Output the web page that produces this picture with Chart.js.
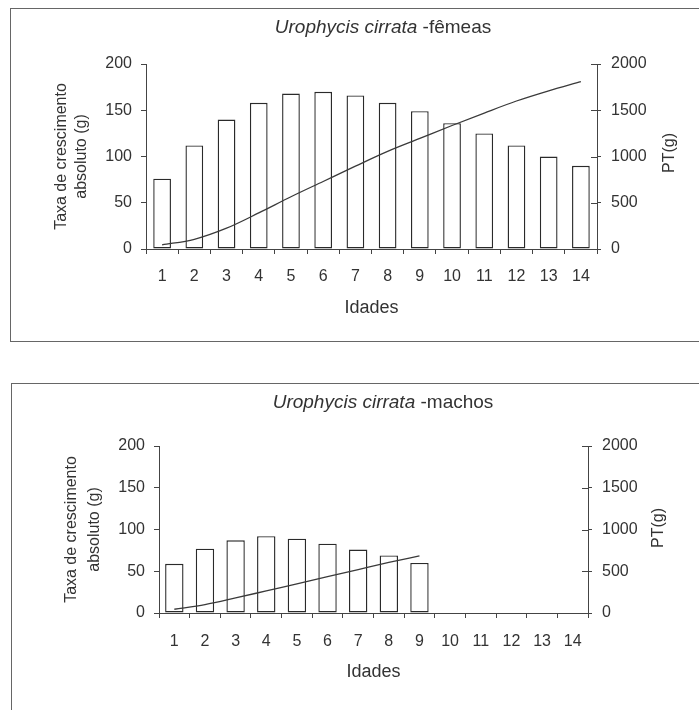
<!DOCTYPE html>
<html>
<head>
<meta charset="utf-8">
<script src="https://cdn.jsdelivr.net/npm/chart.js@4.4.1/dist/chart.umd.min.js"></script>
<style>
  html, body { margin: 0; padding: 0; background: #fff; overflow: hidden; }
  body { width: 699px; height: 710px; position: relative; font-family: "Liberation Sans", Arial, sans-serif; color: #333; }
  .frame { position: absolute; border: 1px solid #666; }
  canvas { position: absolute; left: 0; }
  .title { position: absolute; left: 0; width: 766px; text-align: center; font-size: 19px; line-height: 22px; }
  .pt { position: absolute; font-size: 16px; line-height: 18px; width: 60px; text-align: center; transform: rotate(-90deg); }
</style>
</head>
<body>
<div class="frame" style="left:10px; top:8px; width:720px; height:332px;"></div>
<div class="frame" style="left:11px; top:383px; width:720px; height:400px;"></div>

<canvas id="chartF" width="699" height="345" style="top:0px;"></canvas>
<canvas id="chartM" width="699" height="355" style="top:355px;"></canvas>

<div class="title" style="top:16px;"><i>Urophycis cirrata</i> -fêmeas</div>
<div class="title" style="top:391px;"><i>Urophycis cirrata</i> -machos</div>
<div class="pt" style="left:639px; top:144px;">PT(g)</div>
<div class="pt" style="left:628px; top:519px;">PT(g)</div>

<script>
// idades (x categories)
var idades = ["1", "2", "3", "4", "5", "6", "7", "8", "9", "10", "11", "12", "13", "14"];

// femeas: taxa de crescimento absoluto (g) and PT(g)
var taxaFemeas = [76, 112, 140, 158, 168, 170, 166, 158, 149, 136, 125, 112, 100, 90];
var ptFemeas = [45, 105, 225, 390, 565, 730, 895, 1055, 1195, 1335, 1470, 1600, 1710, 1810];

// machos: only ages 1-9
var taxaMachos = [59, 77, 87, 92, 89, 83, 76, 69, 60, null, null, null, null, null];
var ptMachos = [45, 100, 180, 265, 350, 435, 520, 605, 685, null, null, null, null, null];

var textColor = '#333';
var axisColor = '#444';

// right axis ticks cross the axis line in the original
var innerTicks = {
    id: 'innerTicks',
    afterDraw: function (chart) {
        var s = chart.scales.y1;
        var ctx = chart.ctx;
        ctx.save();
        ctx.strokeStyle = axisColor;
        ctx.lineWidth = 1;
        s.ticks.forEach(function (t) {
            var y = Math.round(s.getPixelForValue(t.value)) + 0.5;
            ctx.beginPath();
            ctx.moveTo(s.left - 6, y);
            ctx.lineTo(s.left, y);
            ctx.stroke();
        });
        ctx.restore();
    }
};

function makeChart(id, taxa, pt, g) {
    var ctx = document.getElementById(id).getContext('2d');
    return new Chart(ctx, {
        type: 'bar',
        data: {
            labels: idades,
            datasets: [{
                type: 'line',
                data: pt,
                yAxisID: 'y1',
                borderColor: '#3a3a3a',
                borderWidth: 1.3,
                pointRadius: 0,
                fill: false,
                cubicInterpolationMode: 'monotone',
                spanGaps: false
            }, {
                type: 'bar',
                data: taxa,
                yAxisID: 'y',
                backgroundColor: '#fff',
                borderColor: '#2a2a2a',
                borderWidth: 1.4,
                borderSkipped: false,
                barPercentage: g.barPct,
                categoryPercentage: 1
            }]
        },
        options: {
            responsive: false,
            animation: false,
            layout: { padding: { top: g.top, left: 0, right: 0, bottom: 0 } },
            plugins: { legend: { display: false }, tooltip: { enabled: false } },
            scales: {
                x: {
                    offset: true,
                    grid: { display: true, drawOnChartArea: false, offset: true, tickLength: 5, color: axisColor },
                    border: { color: axisColor },
                    ticks: { color: textColor, padding: g.xPad, font: { family: 'Liberation Sans', size: 16 } },
                    title: {
                        display: true, text: 'Idades', color: textColor,
                        font: { family: 'Liberation Sans', size: 18 },
                        padding: { top: 0, bottom: g.xTitlePad }
                    },
                    afterFit: function (s) { s.height = g.xHeight; }
                },
                y: {
                    position: 'left',
                    min: 0, max: 200,
                    ticks: { stepSize: 50, color: textColor, padding: 9, font: { family: 'Liberation Sans', size: 16 } },
                    grid: { drawOnChartArea: false, tickLength: 5, color: axisColor },
                    border: { color: axisColor },
                    title: {
                        display: true,
                        text: ['Taxa de crescimento', 'absoluto (g)'],
                        color: textColor,
                        font: { family: 'Liberation Sans', size: 16, lineHeight: g.yLine },
                        padding: { top: g.yTitlePad, bottom: 0 }
                    },
                    afterFit: function (s) { s.width = g.left; }
                },
                y1: {
                    position: 'right',
                    min: 0, max: 2000,
                    ticks: {
                        stepSize: 500, color: textColor, padding: 10,
                        font: { family: 'Liberation Sans', size: 16 },
                        callback: function (v) { return String(v); }
                    },
                    grid: { drawOnChartArea: false, tickLength: 4, color: axisColor },
                    border: { color: axisColor },
                    afterFit: function (s) { s.width = g.right; }
                }
            }
        },
        plugins: [innerTicks]
    });
}

makeChart('chartF', taxaFemeas, ptFemeas, {
    top: 64, left: 146, right: 102, xHeight: 96, barPct: 0.55,
    xPad: 13, xTitlePad: 26, yLine: '20px', yTitlePad: 52
});
makeChart('chartM', taxaMachos, ptMachos, {
    top: 91, left: 159, right: 111, xHeight: 97, barPct: 0.6,
    xPad: 14, xTitlePad: 27, yLine: '23px', yTitlePad: 60
});
</script>
</body>
</html>
